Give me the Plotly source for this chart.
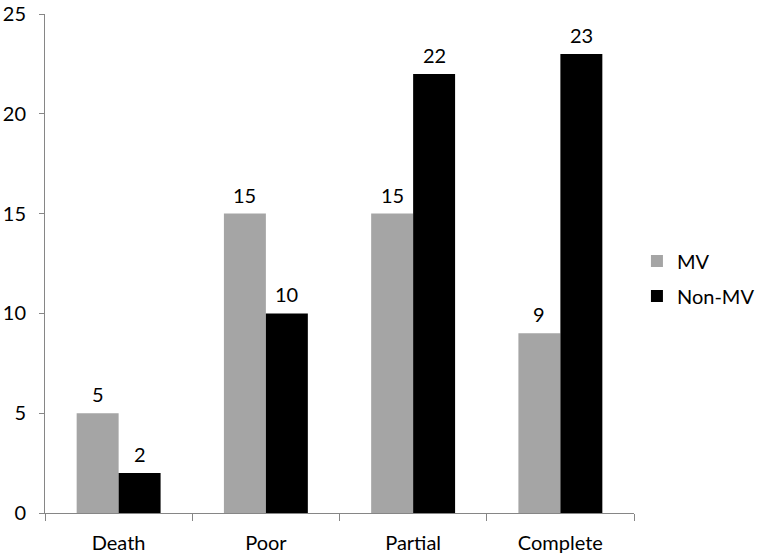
import plotly.graph_objects as go

categories = ["Death", "Poor", "Partial", "Complete"]
mv_values = [5, 15, 15, 9]
non_mv_values = [2, 10, 22, 23]
y_ticks = [0, 5, 10, 15, 20, 25]

font_family = "Lato, Open Sans, sans-serif"
fs = 20

fig = go.Figure()
fig.add_trace(go.Bar(
    name="MV", x=categories, y=mv_values, legendgroup="a",
    marker=dict(color="#a5a5a5", line=dict(width=0)),
))
fig.add_trace(go.Bar(
    name="Non-MV", x=categories, y=non_mv_values, legendgroup="b",
    marker=dict(color="#000000", line=dict(width=0)),
))

# value labels above bars (shifted to each bar of the group)
annotations = []
for series, shift in ((mv_values, -21), (non_mv_values, 21)):
    for cat, val in zip(categories, series):
        annotations.append(dict(
            x=cat, y=val, xref="x", yref="y", text=str(val),
            showarrow=False, xanchor="center", yanchor="bottom",
            xshift=shift, yshift=5,
            font=dict(size=fs, color="#000000", family=font_family),
        ))

fig.update_layout(
    width=760, height=558,
    margin=dict(l=45, r=126, t=13.5, b=45, autoexpand=False),
    paper_bgcolor="white", plot_bgcolor="white",
    barmode="group", bargap=0.43, bargroupgap=0,
    font=dict(family=font_family, size=fs, color="#000000"),
    showlegend=True,
    annotations=annotations,
    legend=dict(
        x=1.005, y=0.47, xanchor="left", yanchor="middle",
        font=dict(size=fs, family=font_family),
        bgcolor="rgba(0,0,0,0)",
        traceorder="grouped", tracegroupgap=6,
    ),
    xaxis=dict(
        showline=True, linecolor="#868686", linewidth=1,
        ticks="outside", tickcolor="#868686", ticklen=7,
        tickson="boundaries", showgrid=False, automargin=False,
        ticklabelstandoff=12,
        tickfont=dict(size=fs),
    ),
    yaxis=dict(
        range=[0, 25], tickvals=y_ticks,
        showline=True, linecolor="#868686", linewidth=1,
        ticks="outside", tickcolor="#868686", ticklen=5,
        showgrid=False, zeroline=False, automargin=False,
        ticklabelstandoff=9,
        tickfont=dict(size=fs),
    ),
)

fig.write_html(
    "out.html",
    config={"displayModeBar": False},
    post_script="document.body.style.margin='0px';",
)
